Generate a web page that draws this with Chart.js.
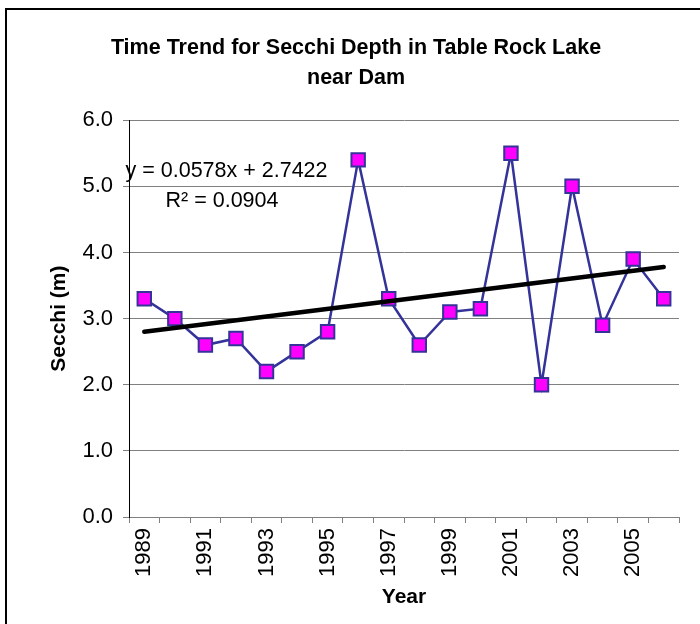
<!DOCTYPE html>
<html>
<head>
<meta charset="utf-8">
<script src="https://cdn.jsdelivr.net/npm/chart.js@4"></script>
<style>
  html, body { margin: 0; padding: 0; background: #fff; overflow: hidden; }
  .frame {
    position: absolute; left: 5px; top: 8px; width: 695px; height: 616px;
    border-left: 2px solid #000; border-top: 2px solid #000;
  }
  .wrap { position: absolute; left: -1px; top: -1px; width: 690px; height: 615px; }
</style>
</head>
<body>
<div class="frame">
  <div class="wrap"><canvas id="secchiChart"></canvas></div>
</div>
<script>
const years = ["1989", "1990", "1991", "1992", "1993", "1994", "1995", "1996", "1997",
  "1998", "1999", "2000", "2001", "2002", "2003", "2004", "2005", "2006"];
const secchi = [3.3, 3.0, 2.6, 2.7, 2.2, 2.5, 2.8, 5.4, 3.3,
  2.6, 3.1, 3.15, 5.5, 2.0, 5.0, 2.9, 3.9, 3.3];
// linear trend endpoints (first and last year), straight line between
const trend = [2.80, null, null, null, null, null, null, null, null,
  null, null, null, null, null, null, null, null, 3.78];
const eqLines = ["y = 0.0578x + 2.7422", "R² = 0.0904"];

const FONT = "'Liberation Sans', Arial, sans-serif";
const GRID = "#808080";

// trendline equation label, placed near the top left of the plot
const eqLabel = {
  id: "eqLabel",
  afterDatasetsDraw(chart) {
    const { ctx, chartArea } = chart;
    ctx.save();
    ctx.fillStyle = "#000";
    ctx.font = "21.5px " + FONT;
    ctx.textAlign = "center";
    ctx.textBaseline = "middle";
    ctx.fillText(eqLines[0], chartArea.left + 97.5, chartArea.top + 51);
    ctx.fillText(eqLines[1], chartArea.left + 93, chartArea.top + 81);
    ctx.restore();
  }
};

new Chart(document.getElementById("secchiChart"), {
  type: "line",
  data: {
    labels: years,
    datasets: [
      {
        label: "Linear (Secchi)",
        data: trend,
        spanGaps: true,
        borderColor: "#000",
        borderWidth: 4.5,
        pointRadius: 0,
        borderCapStyle: "round",
        order: 0
      },
      {
        label: "Secchi",
        data: secchi,
        borderColor: "#333399",
        borderWidth: 2.5,
        pointStyle: "rect",
        pointRadius: 9.5,
        pointBackgroundColor: "#ff00ff",
        pointBorderColor: "#333399",
        pointBorderWidth: 2,
        tension: 0,
        order: 1
      }
    ]
  },
  options: {
    responsive: true,
    maintainAspectRatio: false,
    animation: false,
    layout: { padding: { left: 27, right: 17, top: 0, bottom: 0 } },
    plugins: {
      legend: { display: false },
      tooltip: { enabled: false },
      title: {
        display: true,
        text: ["Time Trend for Secchi Depth in Table Rock Lake", "near Dam"],
        color: "#000",
        font: { family: FONT, size: 21.5, weight: "bold", lineHeight: 1.4 },
        padding: { top: 24, bottom: 27 }
      }
    },
    scales: {
      x: {
        offset: true,
        grid: {
          offset: true,
          drawOnChartArea: false,
          drawTicks: true,
          tickLength: 6,
          color: GRID
        },
        border: { color: GRID, width: 1 },
        ticks: {
          autoSkip: false,
          minRotation: 90,
          maxRotation: 90,
          padding: 5,
          color: "#000",
          font: { family: FONT, size: 22 },
          callback: function (value, index) {
            return index % 2 === 0 ? this.getLabelForValue(value) : "";
          }
        },
        title: {
          display: true,
          text: "Year",
          color: "#000",
          font: { family: FONT, size: 21, weight: "bold" },
          padding: { top: 14, bottom: 14 }
        },
        afterFit(scale) { scale.height = 107; }
      },
      y: {
        min: 0,
        max: 6,
        grid: { color: GRID, tickLength: 6, lineWidth: 1 },
        border: { color: "#000", width: 1 },
        ticks: {
          stepSize: 1,
          padding: 10,
          color: "#000",
          font: { family: FONT, size: 22 },
          callback: (v) => v.toFixed(1)
        },
        title: {
          display: true,
          text: "Secchi (m)",
          color: "#000",
          font: { family: FONT, size: 21, weight: "bold" },
          padding: { top: 14, bottom: 14 }
        },
        afterFit(scale) { scale.width = 96; }
      }
    }
  },
  plugins: [eqLabel]
});
</script>
</body>
</html>
